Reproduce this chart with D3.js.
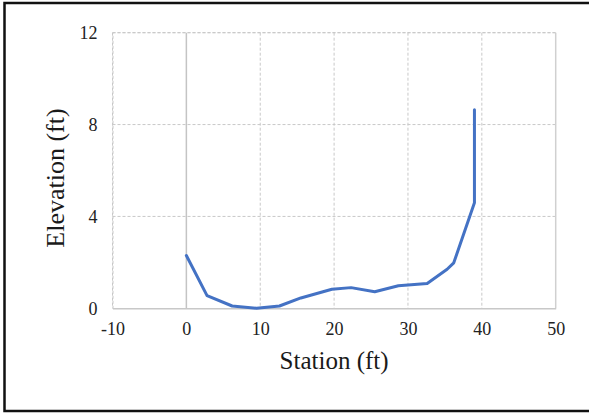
<!DOCTYPE html>
<html>
<head>
<meta charset="utf-8">
<script src="https://cdn.jsdelivr.net/npm/d3@7"></script>
<style>
  html, body { margin: 0; padding: 0; background: #fff; }
  svg { display: block; }
</style>
</head>
<body>
<svg id="chart" width="589" height="414"></svg>
<script>
// Data
const station   = [0, 2.8, 6.2, 9.5, 12.6, 15.5, 19.7, 22.3, 25.5, 28.7, 32.6, 35.3, 36.2, 39.0, 39.0];
const elevation = [2.3, 0.55, 0.1, 0.0, 0.1, 0.45, 0.83, 0.9, 0.72, 0.98, 1.08, 1.7, 1.98, 4.6, 8.65];
const xTicks = [-10, 0, 10, 20, 30, 40, 50];
const yTicks = [0, 4, 8, 12];
const xTitle = "Station (ft)";
const yTitle = "Elevation (ft)";

const svg = d3.select("#chart");
const W = 589, H = 414;
const plot = { left: 112.5, right: 555.7, top: 32.7, bottom: 308.3 };

svg.append("rect").attr("x", 0).attr("y", 0).attr("width", W).attr("height", H).attr("fill", "#fff");
// outer frame
svg.append("rect")
  .attr("x", 4.5).attr("y", 3).attr("width", 586).attr("height", 408)
  .attr("fill", "none").attr("stroke", "#111").attr("stroke-width", 2.5);

const x = d3.scaleLinear().domain([-10, 50]).range([plot.left, plot.right]);
const y = d3.scaleLinear().domain([0, 12]).range([plot.bottom, plot.top]);

const font = "'Liberation Serif', 'Times New Roman', serif";

// gridlines
const grid = svg.append("g");
grid.selectAll("line.h").data(yTicks.filter(d => d !== 0)).enter().append("line")
  .attr("x1", plot.left).attr("x2", plot.right)
  .attr("y1", d => y(d)).attr("y2", d => y(d))
  .attr("stroke", "#c8c8c8").attr("stroke-width", 1).attr("stroke-dasharray", "3,2");
grid.selectAll("line.v").data(xTicks.filter(d => d !== 0 && d !== 50)).enter().append("line")
  .attr("x1", d => x(d)).attr("x2", d => x(d))
  .attr("y1", plot.top).attr("y2", plot.bottom)
  .attr("stroke", "#c8c8c8").attr("stroke-width", 1).attr("stroke-dasharray", "3,2");
// right border of plot
grid.append("line")
  .attr("x1", x(50)).attr("x2", x(50)).attr("y1", plot.top).attr("y2", plot.bottom)
  .attr("stroke", "#d0d0d0").attr("stroke-width", 1.5);
// vertical axis line at x=0
grid.append("line")
  .attr("x1", x(0)).attr("x2", x(0)).attr("y1", plot.top).attr("y2", plot.bottom)
  .attr("stroke", "#c4c4c4").attr("stroke-width", 1.5);

// axes via d3
const xAxis = d3.axisBottom(x).tickValues(xTicks).tickSize(0).tickPadding(14).tickFormat(d3.format("d"));
const gx = svg.append("g").attr("transform", `translate(0,${plot.bottom})`).call(xAxis);
gx.attr("font-family", font);
gx.select(".domain").attr("stroke", "#c8c8c8").attr("stroke-width", 1.5);
gx.selectAll("text").attr("font-family", font).attr("font-size", 18).attr("fill", "#222")
  .text(d => d < 0 ? "-" + Math.abs(d) : d);

const yAxis = d3.axisLeft(y).tickValues(yTicks).tickSize(0).tickPadding(15).tickFormat(d3.format("d"));
const gy = svg.append("g").attr("transform", `translate(${plot.left},0)`).call(yAxis);
gy.attr("font-family", font);
gy.select(".domain").attr("stroke", "#c8c8c8").attr("stroke-width", 1).attr("stroke-dasharray", "3,2");
gy.selectAll("text").attr("font-family", font).attr("font-size", 18).attr("fill", "#222");

// top border dashed
svg.append("line").attr("x1", plot.left).attr("x2", plot.right).attr("y1", plot.top).attr("y2", plot.top)
  .attr("stroke", "#c8c8c8").attr("stroke-dasharray", "3,2");

// data line
const pts = station.map((s, i) => [s, elevation[i]]);
svg.append("path")
  .datum(pts)
  .attr("fill", "none")
  .attr("stroke", "#4472C4")
  .attr("stroke-width", 3)
  .attr("stroke-linejoin", "round")
  .attr("stroke-linecap", "round")
  .attr("d", d3.line().x(d => x(d[0])).y(d => y(d[1])));

// titles
svg.append("text")
  .attr("x", (plot.left + plot.right) / 2).attr("y", 369)
  .attr("text-anchor", "middle")
  .attr("font-family", font).attr("font-size", 25).attr("fill", "#1a1a1a")
  .text(xTitle);
svg.append("text")
  .attr("transform", `translate(64,178) rotate(-90)`)
  .attr("text-anchor", "middle")
  .attr("font-family", font).attr("font-size", 26).attr("fill", "#1a1a1a")
  .text(yTitle);
</script>
</body>
</html>
